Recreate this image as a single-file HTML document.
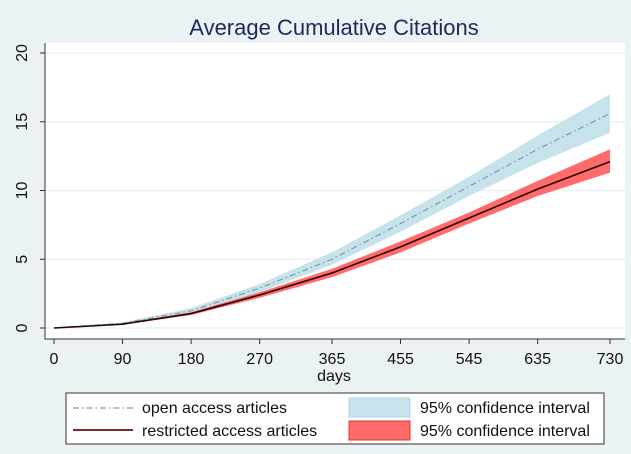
<!DOCTYPE html>
<html><head><meta charset="utf-8"><style>
body{margin:0;background:#eaf2f3;font-family:"Liberation Sans",sans-serif}
svg{display:block}
</style></head><body>
<svg width="631" height="454">
<rect width="631" height="454" fill="#eaf2f3"/>
<text x="334" y="35" text-anchor="middle" font-size="22" fill="#1c2b5c">Average Cumulative Citations</text>
<rect x="45" y="43" width="580" height="296" fill="#ffffff"/>
<g id="grid"></g><g id="bands"></g><g id="lines"></g><g id="axes"></g>
<rect x="66" y="393" width="538" height="51" fill="#fff" stroke="#333" stroke-width="1"/>
<line x1="73" y1="408" x2="133" y2="408" stroke="#7a9aa6" stroke-width="1.2" stroke-dasharray="6,3,1.5,3"/>
<text x="142" y="413" font-size="16" fill="#111">open access articles</text>
<line x1="73" y1="430" x2="133" y2="430" stroke="#6b0f0f" stroke-width="1.8"/>
<text x="142" y="436" font-size="16" fill="#111">restricted access articles</text>
<rect x="349" y="398" width="61" height="19" fill="#c6e3ec" stroke="#b0d6e2"/>
<text x="420" y="413" font-size="16" fill="#111">95% confidence interval</text>
<rect x="349" y="421" width="61" height="19" fill="#ff6b6b" stroke="#e03030"/>
<text x="420" y="436" font-size="16" fill="#111">95% confidence interval</text>
</svg>
<script>
const days=[0,90,180,270,365,455,545,635,730];
const openMean=[0,0.35,1.25,2.9,5.0,7.6,10.3,13.0,15.6];
const openLo=[0,0.3,1.1,2.6,4.6,7.0,9.6,12.0,14.2];
const openHi=[0,0.4,1.45,3.2,5.5,8.2,11.0,14.0,17.0];
const restMean=[0,0.28,1.05,2.4,4.0,5.9,8.0,10.1,12.1];
const restLo=[0,0.24,0.95,2.2,3.7,5.5,7.6,9.6,11.3];
const restHi=[0,0.32,1.15,2.6,4.3,6.3,8.4,10.7,13.0];
const yTicks=[0,5,10,15,20];
const xTicks=[0,90,180,270,365,455,545,635,730];
const NS='http://www.w3.org/2000/svg';
const X=v=>54+v*(610-54)/730, Y=v=>328-v*13.75;
function mk(t,a,p){const e=document.createElementNS(NS,t);for(const k in a)e.setAttribute(k,a[k]);document.getElementById(p).appendChild(e);return e;}
yTicks.forEach(t=>{
 const g=mk('line',{x1:45,x2:625,y1:Y(t),y2:Y(t),stroke:'#e6eff1','stroke-width':1.2},'grid');
 
 
 const tk=mk('line',{x1:40,x2:45,y1:Y(t),y2:Y(t),stroke:'#333'},'axes');
 
 
 const tx=mk('text',{x:0,y:0,transform:`translate(27,${Y(t)}) rotate(-90)`,'text-anchor':'middle','font-size':16,fill:'#111'},'axes');
 tx.textContent=t;
 
 
});
xTicks.forEach(t=>{
 const tk=mk('line',{x1:X(t),x2:X(t),y1:339,y2:344,stroke:'#333'},'axes');
 
 
 const tx=mk('text',{x:X(t),y:364,'text-anchor':'middle','font-size':16,fill:'#111'},'axes');
 tx.textContent=t;
 
 
});
const xl=mk('text',{x:334,y:381,'text-anchor':'middle','font-size':16,fill:'#111'},'axes');xl.textContent='days';


const ax=mk('path',{d:'M45,43 V339 H625',fill:'none',stroke:'#333'},'axes');


function band(lo,hi,fill,name){
 let d='M'+days.map((x,i)=>X(x)+','+Y(hi[i])).join(' L');
 d+=' L'+days.map((x,i)=>X(x)+','+Y(lo[i])).reverse().join(' L')+'Z';
 const p=mk('path',{d,fill},'bands');
 
 
}
band(openLo,openHi,'#c6e3ec','open-ci-band');
band(restLo,restHi,'#ff6b6b','restricted-ci-band');
function line(v,attrs,name){
 const p=mk('polyline',Object.assign({points:days.map((x,i)=>X(x)+','+Y(v[i])).join(' '),fill:'none'},attrs),'lines');
 
 
}
line(openMean,{stroke:'#7a9aa6','stroke-width':1.2,'stroke-dasharray':'6,3,1.5,3'},'open-mean-line');
line(restMean,{stroke:'#2a0505','stroke-width':1.6},'restricted-mean-line');
</script>
</body></html>
